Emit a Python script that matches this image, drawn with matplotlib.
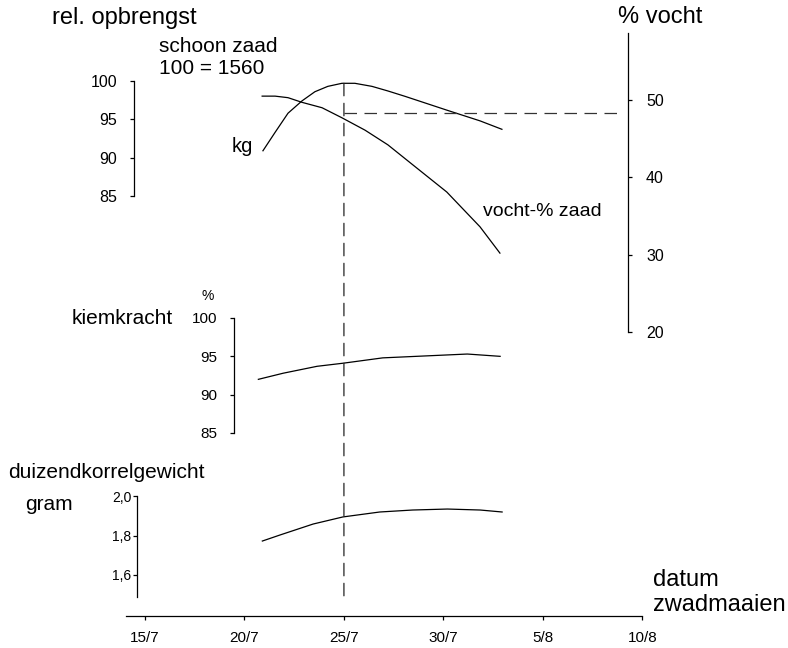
import matplotlib
matplotlib.use('Agg')
import matplotlib.pyplot as plt
from matplotlib.patches import ConnectionPatch

plt.rcParams['font.family'] = ['Liberation Sans', 'DejaVu Sans']

# datum zwadmaaien (dag in juli, 35 = 5/8, 40 = 10/8 zoals op de as)
date_ticks = [15, 20, 25, 30, 35, 40]
date_labels = ['15/7', '20/7', '25/7', '30/7', '5/8', '10/8']

# relatieve opbrengst schoon zaad (100 = 1560 kg)
yield_days = [20.93, 21.54, 22.19, 22.89, 23.54, 24.19, 24.9, 25.55, 26.41,
              27.21, 28.07, 30.17, 31.84, 32.94]
yield_rel = [90.9, 93.3, 95.8, 97.4, 98.6, 99.3, 99.7, 99.7, 99.3,
             98.7, 98.0, 96.2, 94.8, 93.7]

# vocht-% zaad
moist_days = [20.89, 21.54, 22.19, 22.89, 23.9, 24.9, 26.06, 27.21, 28.47,
              30.17, 31.84, 32.84]
moist_pct = [50.5, 50.5, 50.3, 49.7, 49.0, 47.7, 46.1, 44.2, 41.6,
             38.1, 33.6, 30.2]

# kiemkracht %
kiem_days = [20.7, 21.95, 23.65, 24.95, 26.95, 28.65, 30.35, 31.2, 32.85]
kiem_pct = [92.0, 92.8, 93.7, 94.1, 94.8, 95.0, 95.2, 95.3, 95.0]

# duizendkorrelgewicht (gram)
tkw_days = [20.9, 21.8, 23.45, 24.95, 26.8, 28.45, 30.2, 31.85, 32.95]
tkw_gram = [1.772, 1.803, 1.858, 1.894, 1.919, 1.929, 1.934, 1.929, 1.919]

# optimum
opt_day = 25
opt_yield = 99.7
opt_moist = 48.3

W, H = 788, 648
PX_PER_DAY = 19.897


def day_at(px):
    return 27.5 + (px - 393.67) / PX_PER_DAY


fig = plt.figure(figsize=(W / 100, H / 100), dpi=100)


def layer(v_a, px_a, v_b, px_b):
    # transparante laag over de hele figuur, y-schaal via twee referentiepunten
    ax = fig.add_axes([0, 0, 1, 1])
    ax.set_xlim(day_at(0), day_at(W))
    k = (v_a - v_b) / (px_b - px_a)
    ax.set_ylim(v_a - (H - px_a) * k, v_a + px_a * k)
    ax.patch.set_visible(False)
    for s in ax.spines.values():
        s.set_visible(False)
        s.set_linewidth(0.9)
    ax.set_xticks([])
    ax.set_yticks([])
    return ax


def put(px, py, s, size, ha='left'):
    fig.text(px / W, 1 - py / H, s, fontsize=size, ha=ha, va='center')


LW = 0.9
DASH = (0, (10, 6))

# bovenste paneel: opbrengst (links) en vocht (rechts)
ax_y = layer(100, 81, 85, 196)
ax_y.spines['left'].set_visible(True)
ax_y.spines['left'].set_position(('data', day_at(134)))
ax_y.spines['left'].set_bounds(85, 100)
ax_y.set_yticks([85, 90, 95, 100])
ax_y.tick_params(axis='y', left=True, direction='out', length=3, width=0.9,
                 pad=9, labelsize=11.5)
ax_y.plot(yield_days, yield_rel, color='black', lw=LW)

ax_m = layer(50, 100, 20, 332)
ax_m.spines['right'].set_visible(True)
ax_m.spines['right'].set_position(('data', day_at(628)))
ax_m.spines['right'].set_bounds(20, 58.7)
ax_m.yaxis.tick_right()
ax_m.set_yticks([20, 30, 40, 50])
ax_m.tick_params(axis='y', right=True, left=False, direction='out', length=3,
                 width=0.9, pad=10, labelsize=11.5)
ax_m.plot(moist_days, moist_pct, color='black', lw=LW)
ax_m.plot([opt_day, day_at(622)], [opt_moist, opt_moist], color='#333333',
          lw=LW, linestyle=DASH)

# middelste paneel: kiemkracht
ax_k = layer(100, 318, 85, 433)
ax_k.spines['left'].set_visible(True)
ax_k.spines['left'].set_position(('data', day_at(234)))
ax_k.spines['left'].set_bounds(85, 100)
ax_k.set_yticks([85, 90, 95, 100])
ax_k.tick_params(axis='y', left=True, direction='out', length=3, width=0.9,
                 pad=9, labelsize=11)
ax_k.plot(kiem_days, kiem_pct, color='black', lw=LW)

# onderste paneel: duizendkorrelgewicht
ax_t = layer(2.0, 496, 1.6, 575)
ax_t.spines['left'].set_visible(True)
ax_t.spines['left'].set_position(('data', day_at(137)))
ax_t.spines['left'].set_bounds(1.49, 2.0)
ax_t.set_yticks([1.6, 1.8, 2.0], ['1,6', '1,8', '2,0'])
ax_t.tick_params(axis='y', left=True, direction='out', length=3, width=0.9,
                 pad=1, labelsize=10)
ax_t.plot(tkw_days, tkw_gram, color='black', lw=LW)

# datum-as
ax_x = layer(0, 616, 616, 0)
ax_x.spines['bottom'].set_visible(True)
ax_x.spines['bottom'].set_position(('data', 0))
ax_x.spines['bottom'].set_bounds(day_at(126), 40)
ax_x.set_xticks(date_ticks, date_labels)
ax_x.tick_params(axis='x', bottom=True, direction='out', length=3, width=0.9,
                 pad=8, labelsize=11)

con = ConnectionPatch(xyA=(opt_day, opt_yield), coordsA=ax_y.transData,
                      xyB=(opt_day, 13), coordsB=ax_x.transData,
                      color='#222222', lw=LW, linestyle=DASH)
fig.add_artist(con)

# teksten
put(52, 18, 'rel. opbrengst', 17)
put(159, 47, 'schoon zaad', 15)
put(159, 68, '100 = 1560', 15)
put(232, 147, 'kg', 14.5)
put(483, 212, 'vocht-% zaad', 14)
put(618, 17, '% vocht', 17)
put(208, 296, '%', 10, ha='center')
put(173, 318, 'kiemkracht', 15, ha='right')
put(8, 473, 'duizendkorrelgewicht', 15)
put(25, 505, 'gram', 15)
put(653, 580, 'datum', 17)
put(653, 605, 'zwadmaaien', 17)

fig.savefig('out.png', dpi=100)
